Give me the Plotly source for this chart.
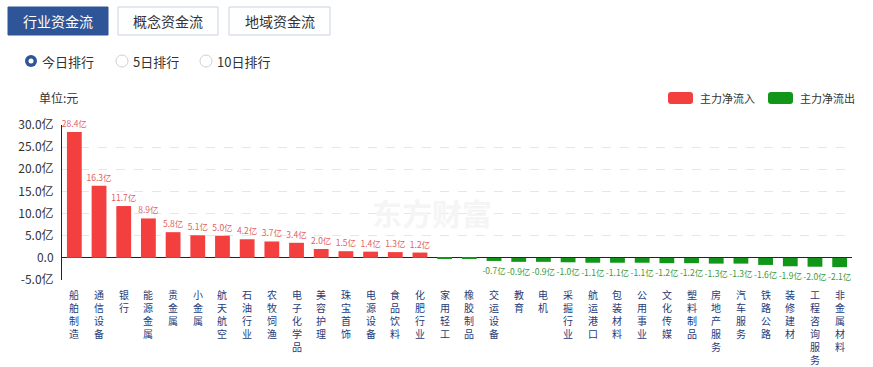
import plotly.graph_objects as go

categories = ["船舶制造", "通信设备", "银行", "能源金属", "贵金属", "小金属", "航天航空", "石油行业",
              "农牧饲渔", "电子化学品", "美容护理", "珠宝首饰", "电源设备", "食品饮料", "化肥行业",
              "家用轻工", "橡胶制品", "交运设备", "教育", "电机", "采掘行业", "航运港口", "包装材料",
              "公用事业", "文化传媒", "塑料制品", "房地产服务", "汽车服务", "铁路公路", "装修建材",
              "工程咨询服务", "非金属材料"]
values = [28.4, 16.3, 11.7, 8.9, 5.8, 5.1, 5.0, 4.2, 3.7, 3.4, 2.0, 1.5, 1.4, 1.3, 1.2,
          -0.05, -0.2, -0.7, -0.9, -0.9, -1.0, -1.1, -1.1, -1.1, -1.2, -1.2, -1.3, -1.3, -1.6,
          -1.9, -2.0, -2.1]
ytick_vals = [-5, 0, 5, 10, 15, 20, 25, 30]
ytick_text = ["-5.0亿", "0.0", "5.0亿", "10.0亿", "15.0亿", "20.0亿", "25.0亿", "30.0亿"]
legend_names = ["主力净流入", "主力净流出"]
tabs = ["行业资金流", "概念资金流", "地域资金流"]
radios = ["今日排行", "5日排行", "10日排行"]

RED = "#f43f3f"
GREEN = "#12961a"
RED_TXT = "#e4615f"
GREEN_TXT = "#3a9a3a"
FONT = "Noto Sans CJK SC"

W, H = 873, 367
L, R, T, B = 62, 21, 125, 87
PW, PH = W - L - R, H - T - B


def px(x):
    return (x - L) / PW


def py(y):
    return (H - B - y) / PH


colors = [RED if v >= 0 else GREEN for v in values]
txt_colors = [RED_TXT if v >= 0 else GREEN_TXT for v in values]
texts = [("%.1f亿" % v) if abs(v) >= 0.5 else "" for v in values]

fig = go.Figure()
fig.add_trace(go.Bar(
    x=categories, y=values, marker=dict(color=colors, line=dict(width=0)),
    text=texts, textposition="outside", constraintext="none",
    textfont=dict(size=8.5, color=txt_colors, family=FONT),
    cliponaxis=False, showlegend=False, hoverinfo="x+y",
))

shapes = []
annotations = []

# Watermark
annotations.append(dict(xref="paper", yref="paper", x=px(432), y=py(212), text="<b>东方财富</b>",
                        showarrow=False, font=dict(size=30, color="#f5f5f5", family=FONT)))

# Vertical x labels (one character per line)
for cat in categories:
    annotations.append(dict(xref="x", yref="paper", x=cat, y=py(286), text="<br>".join(cat),
                            showarrow=False, xanchor="center", yanchor="top", borderpad=0,
                            font=dict(size=10, color="#1f3b78", family=FONT)))

# Unit label
annotations.append(dict(xref="paper", yref="paper", x=px(37), y=py(97), text="单位:元",
                        xanchor="left", yanchor="middle", showarrow=False,
                        font=dict(size=12, color="#333333", family=FONT)))

# Legend
leg = [(668, RED, legend_names[0]), (768, GREEN, legend_names[1])]
for x0, c, name in leg:
    shapes.append(dict(type="path", xref="paper", yref="paper",
                       path=f"M {px(x0+3)},{py(92)} L {px(x0+22)},{py(92)} Q {px(x0+25)},{py(92)} {px(x0+25)},{py(95)} "
                            f"L {px(x0+25)},{py(101)} Q {px(x0+25)},{py(104)} {px(x0+22)},{py(104)} "
                            f"L {px(x0+3)},{py(104)} Q {px(x0)},{py(104)} {px(x0)},{py(101)} "
                            f"L {px(x0)},{py(95)} Q {px(x0)},{py(92)} {px(x0+3)},{py(92)} Z",
                       fillcolor=c, line=dict(width=0)))
    annotations.append(dict(xref="paper", yref="paper", x=px(x0 + 30), y=py(98), text=name,
                            xanchor="left", yanchor="middle", showarrow=False,
                            font=dict(size=11, color="#333333", family=FONT)))

# Tabs
tab_pos = [(8, 108), (118, 218), (229, 330)]
for i, (name, (x0, x1)) in enumerate(zip(tabs, tab_pos)):
    sel = i == 0
    shapes.append(dict(type="rect", xref="paper", yref="paper", x0=px(x0), x1=px(x1), y0=py(35), y1=py(7),
                       fillcolor="#2e5597" if sel else "#ffffff",
                       line=dict(color="#2e5597" if sel else "#c9d3df", width=1)))
    annotations.append(dict(xref="paper", yref="paper", x=px((x0 + x1) / 2), y=py(21), text=name,
                            showarrow=False, xanchor="center", yanchor="middle",
                            font=dict(size=14, color="#ffffff" if sel else "#333333", family=FONT)))

# Radios
radio_pos = [31, 122, 206]
for i, (name, cx) in enumerate(zip(radios, radio_pos)):
    cy = 61
    if i == 0:
        shapes.append(dict(type="circle", xref="paper", yref="paper", x0=px(cx - 6), x1=px(cx + 6),
                           y0=py(cy + 6), y1=py(cy - 6), fillcolor="#2e5597", line=dict(width=0)))
        shapes.append(dict(type="circle", xref="paper", yref="paper", x0=px(cx - 2.5), x1=px(cx + 2.5),
                           y0=py(cy + 2.5), y1=py(cy - 2.5), fillcolor="#ffffff", line=dict(width=0)))
    else:
        shapes.append(dict(type="circle", xref="paper", yref="paper", x0=px(cx - 6), x1=px(cx + 6),
                           y0=py(cy + 6), y1=py(cy - 6), fillcolor="#ffffff",
                           line=dict(color="#d0d0d0", width=1)))
    annotations.append(dict(xref="paper", yref="paper", x=px(cx + 9), y=py(cy), text=name,
                            showarrow=False, xanchor="left", yanchor="middle",
                            font=dict(size=13, color="#333333", family=FONT)))

fig.update_layout(
    width=W, height=H, margin=dict(l=L, r=R, t=T, b=B),
    paper_bgcolor="#ffffff", plot_bgcolor="#ffffff",
    bargap=0.4, showlegend=False,
    font=dict(family=FONT, size=12, color="#333333"),
    shapes=shapes, annotations=annotations,
    xaxis=dict(showticklabels=False, showgrid=False, zeroline=False, showline=False, ticks="",
               range=[-0.5, len(categories) - 0.5]),
    yaxis=dict(range=[-5, 30], tickvals=ytick_vals, ticktext=ytick_text,
               showgrid=True, gridcolor="#e6e6e6", griddash="dash", gridwidth=1,
               zeroline=True, zerolinecolor="#222222", zerolinewidth=1,
               showline=True, linecolor="#222222", linewidth=1,
               ticks="", ticklabelstandoff=5,
               tickfont=dict(size=12, color="#333333", family=FONT)),
)

fig.write_html("out.html", config={"displayModeBar": False},
               post_script="document.body.style.margin='0px';")
